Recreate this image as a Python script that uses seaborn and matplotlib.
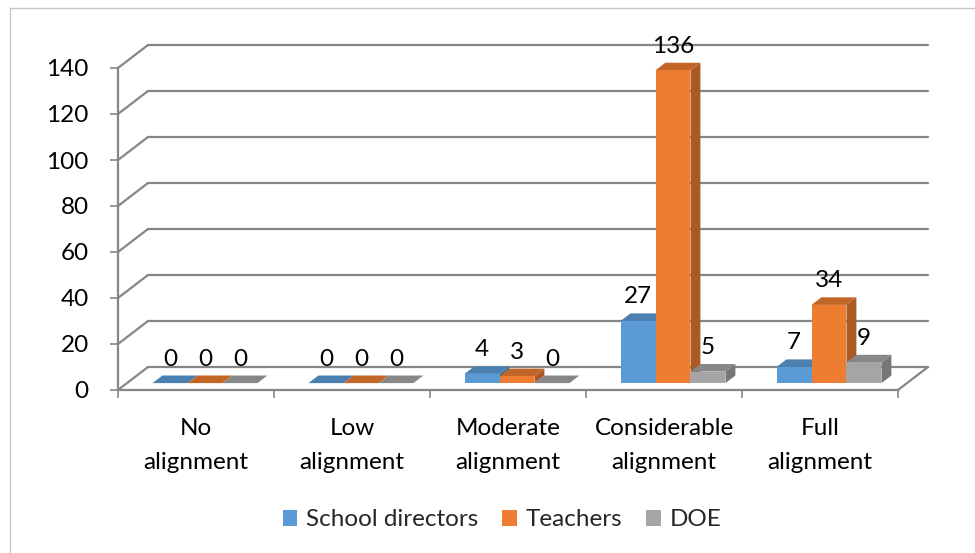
import numpy as np
import pandas as pd
import matplotlib
matplotlib.use("Agg")
import matplotlib.pyplot as plt
import seaborn as sns
from matplotlib.patches import Polygon, Rectangle, Patch
from matplotlib.colors import to_rgb

# ---- data -------------------------------------------------------------
categories = ["No\nalignment", "Low\nalignment", "Moderate\nalignment",
              "Considerable\nalignment", "Full\nalignment"]
groups = ["School directors", "Teachers", "DOE"]
school_directors = [0, 0, 4, 27, 7]
teachers = [0, 0, 3, 136, 34]
doe = [0, 0, 0, 5, 9]
y_ticks = [0, 20, 40, 60, 80, 100, 120, 140]

front_colors = {"School directors": "#5B9BD5", "Teachers": "#ED7D31", "DOE": "#A5A5A5"}

records = []
for grp, vals in zip(groups, [school_directors, teachers, doe]):
    for cat, v in zip(categories, vals):
        records.append({"category": cat, "group": grp, "count": v})
df = pd.DataFrame(records)

# ---- style ------------------------------------------------------------
sns.set_theme(style="white")
plt.rcParams["font.family"] = ["Lato", "DejaVu Sans"]
FS = 17.5
GRID = "#868686"

fig = plt.figure(figsize=(9.75, 5.53), dpi=100)
ax = fig.add_axes([118 / 975, 1 - 390 / 553, 780 / 975, 322 / 553])

sns.barplot(data=df, x="category", y="count", hue="group", order=categories,
            hue_order=groups, palette=front_colors, width=0.673, saturation=1,
            edgecolor="none", linewidth=0, legend=False, ax=ax)

ax.set_xlim(-0.5, 4.5)
ax.set_ylim(0, 140)
ax.set_xlabel("")
ax.set_ylabel("")

# oblique projection: one unit of depth moves 30 px right and 23 px up
px_x = 5 / 780          # data units per pixel, horizontal
px_y = 140 / 322        # data units per pixel, vertical
DX, DY = 30 * px_x, 23 * px_y

# back wall gridlines with their left-wall diagonals, plus floor
for v in y_ticks:
    ax.plot([-0.5, -0.5 + DX], [v, v + DY], color=GRID, lw=1.6, clip_on=False, zorder=1)
    ax.plot([-0.5 + DX, 4.5 + DX], [v + DY, v + DY], color=GRID, lw=1.6, clip_on=False, zorder=1)
ax.plot([4.5, 4.5 + DX], [0, DY], color=GRID, lw=1.6, clip_on=False, zorder=1)

# axis lines and ticks
for side in ["top", "right"]:
    ax.spines[side].set_visible(False)
for side in ["left", "bottom"]:
    ax.spines[side].set_color(GRID)
    ax.spines[side].set_linewidth(1.6)
    ax.spines[side].set_zorder(2)
ax.set_yticks(y_ticks)
ax.set_yticklabels([str(t) for t in y_ticks], fontsize=FS, color="black")
ax.tick_params(axis="y", which="major", left=True, length=6, width=1.2,
               color=GRID, pad=15)
ax.set_xticks(range(len(categories)))
ax.set_xticklabels(categories, fontsize=FS, color="black", linespacing=1.75)
ax.tick_params(axis="x", which="major", bottom=False, length=0, pad=20)
ax.set_xticks(np.arange(-0.5, 5.0, 1.0), minor=True)
ax.tick_params(axis="x", which="minor", bottom=True, length=6, width=1.2,
               color=GRID, direction="out")
ax.grid(False)

# ---- give the bars depth ---------------------------------------------
FRONT = 0.3    # depth of the bar front faces
THICK = 0.33   # depth of the bars


def shade(color, k):
    r, g, b = to_rgb(color)
    return (r * k, g * k, b * k)


bars = sorted(ax.patches, key=lambda p: p.get_x())
for i, p in enumerate(bars):
    x0, w, h = p.get_x(), p.get_width(), p.get_height()
    col = p.get_facecolor()
    xs, ys = x0 + FRONT * DX, FRONT * DY
    p.set_x(xs)
    p.set_y(ys)
    z = 3 + i * 0.01
    p.set_zorder(z + 0.005)
    tdx, tdy = THICK * DX, THICK * DY
    side = Polygon([(xs + w, ys), (xs + w, ys + h), (xs + w + tdx, ys + h + tdy),
                    (xs + w + tdx, ys + tdy)], closed=True,
                   facecolor=shade(col, 0.72), edgecolor="none", zorder=z, clip_on=False)
    top = Polygon([(xs, ys + h), (xs + w, ys + h), (xs + w + tdx, ys + h + tdy),
                   (xs + tdx, ys + h + tdy)], closed=True,
                  facecolor=shade(col, 0.82), edgecolor="none", zorder=z, clip_on=False)
    ax.add_patch(side)
    ax.add_patch(top)
    ax.annotate(f"{int(round(h))}", xy=(xs + w / 2, h), xytext=(0, 31 * 0.72),
                textcoords="offset points", ha="center", va="center",
                fontsize=FS, color="black", zorder=10, annotation_clip=False)

# ---- legend -----------------------------------------------------------
handles = [Patch(facecolor=front_colors[g], edgecolor="none") for g in groups]
fig.legend(handles=handles, labels=groups, loc="center",
           bbox_to_anchor=(502 / 975, 1 - 520 / 553), ncol=3, frameon=False,
           fontsize=FS, handlelength=0.6, handleheight=0.6, handletextpad=0.35,
           columnspacing=1.0)

# chart frame
fig.patches.append(Rectangle((10 / 975, -0.1), 1.2, 1 - 8 / 553 + 0.1,
                             transform=fig.transFigure, fill=False,
                             edgecolor="#c8c8c8", lw=1.0))

fig.savefig("out.png", dpi=100)
